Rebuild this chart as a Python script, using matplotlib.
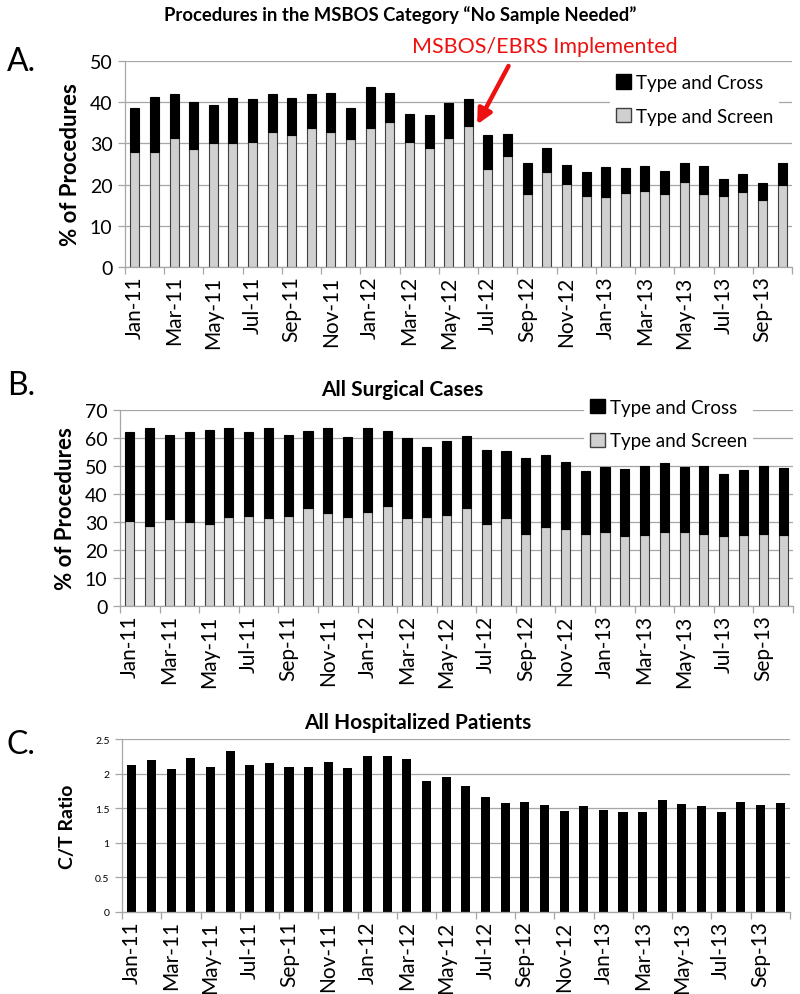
import matplotlib
matplotlib.use("Agg")
import matplotlib.pyplot as plt
from matplotlib.patches import Patch
import numpy as np

plt.rcParams['font.family'] = ['Lato', 'DejaVu Sans']

months = ["Jan-11", "Feb-11", "Mar-11", "Apr-11", "May-11", "Jun-11", "Jul-11", "Aug-11",
          "Sep-11", "Oct-11", "Nov-11", "Dec-11", "Jan-12", "Feb-12", "Mar-12", "Apr-12",
          "May-12", "Jun-12", "Jul-12", "Aug-12", "Sep-12", "Oct-12", "Nov-12", "Dec-12",
          "Jan-13", "Feb-13", "Mar-13", "Apr-13", "May-13", "Jun-13", "Jul-13", "Aug-13",
          "Sep-13", "Oct-13"]

# Panel A: No Sample Needed (total height and Type and Screen part)
a_total = [38.6, 41.3, 41.9, 40.1, 39.4, 41.1, 40.7, 41.9, 41.0, 42.0, 42.3, 38.5,
           43.8, 42.3, 37.1, 36.9, 39.8, 40.7, 32.0, 32.3, 25.3, 29.0, 24.8, 23.1,
           24.2, 24.1, 24.4, 23.2, 25.2, 24.4, 21.3, 22.5, 20.5, 25.2]
a_screen = [27.8, 27.8, 31.4, 28.7, 30.1, 30.2, 30.3, 32.7, 32.1, 33.7, 32.7, 31.1,
            33.7, 35.2, 30.3, 29.0, 31.3, 34.3, 23.7, 26.9, 17.7, 23.0, 20.2, 17.3,
            16.9, 17.9, 18.5, 17.7, 20.6, 17.7, 17.3, 18.2, 16.3, 19.8]

# Panel B: All Surgical Cases
b_total = [62.1, 63.6, 61.2, 62.1, 62.9, 63.7, 62.3, 63.7, 61.0, 62.5, 63.6, 60.5,
           63.6, 62.6, 59.9, 56.7, 59.0, 60.8, 55.8, 55.4, 52.9, 53.9, 51.5, 48.2,
           49.6, 48.8, 50.0, 51.1, 49.6, 50.1, 47.1, 48.6, 49.9, 49.3]
b_screen = [30.2, 28.6, 31.0, 30.1, 29.4, 31.9, 32.1, 31.3, 32.1, 35.0, 33.2, 31.9,
            33.7, 35.7, 31.5, 31.7, 32.4, 35.0, 29.3, 31.4, 25.8, 28.1, 27.5, 25.8,
            26.4, 25.1, 25.4, 26.5, 26.4, 25.8, 25.1, 25.5, 25.8, 25.5]

# Panel C: C/T ratio
c_ratio = [2.13, 2.20, 2.06, 2.23, 2.10, 2.33, 2.13, 2.15, 2.10, 2.09, 2.17, 2.08,
           2.26, 2.25, 2.21, 1.89, 1.95, 1.82, 1.66, 1.57, 1.59, 1.54, 1.46, 1.53,
           1.48, 1.45, 1.45, 1.62, 1.56, 1.53, 1.45, 1.59, 1.54, 1.58]

W, H = 800, 995
fig = plt.figure(figsize=(8, 9.95), dpi=100)

def px_axes(l, t, r, b):
    return fig.add_axes([l / W, 1 - b / H, (r - l) / W, (b - t) / H])

GRID = '#a6a6a6'
SCREEN = '#d0d0d0'
EDGE = '#404040'
x = np.arange(len(months))
bw = 0.46

def style(ax, ymax, ystep, ylabels, ysize):
    ax.set_xlim(-0.5, len(months) - 0.5)
    ax.set_ylim(0, ymax)
    yt = np.arange(0, ymax + ystep / 2, ystep)
    ax.set_yticks(yt, ylabels, fontsize=ysize)
    ax.yaxis.grid(True, color=GRID, lw=0.9)
    ax.set_axisbelow(True)
    for s in ['top', 'right']:
        ax.spines[s].set_visible(False)
    for s in ['left', 'bottom']:
        ax.spines[s].set_color(GRID)
        ax.spines[s].set_linewidth(0.9)
    ax.set_xticks(x[::2], months[::2], rotation=90, fontsize=15)
    ax.tick_params(axis='x', which='major', length=0, pad=6)
    ax.set_xticks(np.arange(-0.5, len(months), 2), minor=True)
    ax.tick_params(axis='x', which='minor', length=5, color=GRID, width=0.9)
    ax.tick_params(axis='y', length=5, color=GRID, width=0.9, pad=4)

def legend(ax, anchor):
    handles = [Patch(facecolor='black', edgecolor='black', label='Type and Cross'),
               Patch(facecolor=SCREEN, edgecolor=EDGE, label='Type and Screen')]
    lg = ax.legend(handles=handles, loc='upper right', bbox_to_anchor=anchor,
                   fontsize=13.5, frameon=True, fancybox=False, framealpha=1,
                   handlelength=0.8, handleheight=0.8, handletextpad=0.3,
                   labelspacing=0.9, borderpad=0.3)
    lg.get_frame().set_edgecolor('white')
    lg.get_frame().set_facecolor('white')
    lg.get_frame().set_linewidth(0)

# ---- Panel A ----
axA = px_axes(125, 62, 792, 268)
cross_a = np.array(a_total) - np.array(a_screen)
axA.bar(x, a_screen, bw, color=SCREEN, edgecolor=EDGE, lw=0.8)
axA.bar(x, cross_a, bw, bottom=a_screen, color='black', edgecolor='black', lw=0.8)
style(axA, 50, 10, [str(v) for v in range(0, 51, 10)], 14)
legend(axA, (0.995, 1.01))
axA.set_ylabel('% of Procedures', fontsize=16, fontweight='bold', labelpad=6)
axA.text(20.9, 53.7, 'MSBOS/EBRS Implemented', color='#ee1111', fontsize=15.5,
         ha='center', va='center', clip_on=False)
axA.annotate('', xy=(17.45, 34.6), xytext=(19.05, 48.8),
             arrowprops=dict(arrowstyle='-|>', color='#ee1111', lw=3.2,
                             mutation_scale=22, shrinkA=0, shrinkB=0),
             annotation_clip=False)

# ---- Panel B ----
axB = px_axes(120, 411, 793, 607)
cross_b = np.array(b_total) - np.array(b_screen)
axB.bar(x, b_screen, bw, color=SCREEN, edgecolor=EDGE, lw=0.8)
axB.bar(x, cross_b, bw, bottom=b_screen, color='black', edgecolor='black', lw=0.8)
style(axB, 70, 10, [str(v) for v in range(0, 71, 10)], 14)
legend(axB, (0.955, 1.135))
axB.set_ylabel('% of Procedures', fontsize=16, fontweight='bold', labelpad=6)

# ---- Panel C ----
axC = px_axes(122, 740, 790, 913)
axC.bar(x, c_ratio, bw, color='black', edgecolor='none')
style(axC, 2.5, 0.5, ['0', '0.5', '1', '1.5', '2', '2.5'], 7.5)
axC.set_ylabel('C/T Ratio', fontsize=14, fontweight='bold', labelpad=14)

# Titles and panel letters
fig.text(400 / W, 1 - 15 / H, 'Procedures in the MSBOS Category \u201cNo Sample Needed\u201d',
         ha='center', va='center', fontsize=13.3, fontweight='bold')
fig.text(402 / W, 1 - 390 / H, 'All Surgical Cases', ha='center', va='center',
         fontsize=15, fontweight='bold')
fig.text(418 / W, 1 - 723 / H, 'All Hospitalized Patients', ha='center', va='center',
         fontsize=15, fontweight='bold')
for lab, yy in [('A.', 62), ('B.', 386), ('C.', 745)]:
    fig.text(7 / W, 1 - yy / H, lab, ha='left', va='center', fontsize=23)

fig.savefig('out.png', dpi=100)
